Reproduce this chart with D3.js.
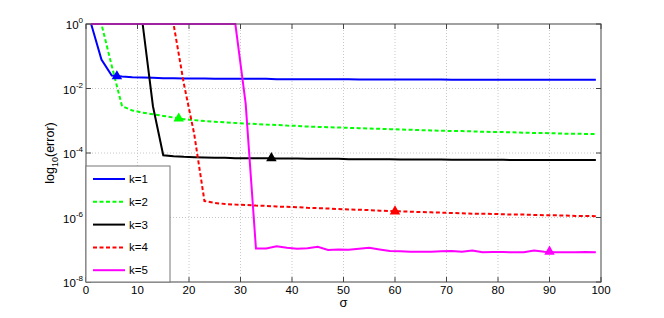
<!DOCTYPE html>
<html>
<head>
<meta charset="utf-8">
<script src="https://cdn.jsdelivr.net/npm/d3@7"></script>
<style>
  body { margin: 0; background: #fff; }
  svg { font-family: "Liberation Sans", Arial, sans-serif; }
  .grid line { stroke: #c8c8c8; stroke-dasharray: 1,2; }
</style>
</head>
<body>
<svg width="664" height="318"></svg>
<script>
// sigma values (x) shared by every curve
const sigma = [1,3,5,7,9,11,13,15,17,19,21,23,25,27,29,31,33,35,37,39,41,43,45,47,49,
               51,53,55,57,59,61,63,65,67,69,71,73,75,77,79,81,83,85,87,89,91,93,95,97,99]

// log10(error) for each k
const k1 = [0,-1.10,-1.60,-1.63,-1.65,-1.66,-1.67,-1.68,-1.68,-1.69,-1.69,-1.69,-1.70,-1.70,-1.70,-1.70,-1.70,-1.70,-1.71,-1.71,-1.71,-1.71,-1.71,-1.71,-1.71,
            -1.71,-1.72,-1.72,-1.72,-1.72,-1.72,-1.72,-1.72,-1.72,-1.72,-1.73,-1.73,-1.73,-1.73,-1.73,-1.73,-1.73,-1.73,-1.73,-1.73,-1.73,-1.73,-1.73,-1.73,-1.73]
const k2 = [0,0,-1.30,-2.55,-2.68,-2.75,-2.80,-2.85,-2.90,-2.95,-2.98,-3.01,-3.03,-3.05,-3.07,-3.09,-3.10,-3.12,-3.13,-3.15,-3.16,-3.18,-3.19,-3.20,-3.21,
            -3.22,-3.23,-3.24,-3.25,-3.26,-3.27,-3.28,-3.29,-3.30,-3.31,-3.32,-3.32,-3.33,-3.34,-3.35,-3.35,-3.36,-3.37,-3.38,-3.38,-3.39,-3.40,-3.40,-3.41,-3.41]
const k3 = [0,0,0,0,0,0,-2.55,-4.07,-4.10,-4.12,-4.13,-4.14,-4.15,-4.15,-4.16,-4.16,-4.16,-4.16,-4.17,-4.17,-4.17,-4.18,-4.18,-4.18,-4.18,
            -4.19,-4.19,-4.19,-4.19,-4.19,-4.20,-4.20,-4.20,-4.20,-4.20,-4.21,-4.21,-4.21,-4.21,-4.21,-4.21,-4.22,-4.22,-4.22,-4.22,-4.22,-4.22,-4.22,-4.22,-4.22]
const k4 = [0,0,0,0,0,0,0,0,0,-1.85,-3.40,-5.49,-5.55,-5.58,-5.60,-5.61,-5.63,-5.64,-5.66,-5.67,-5.68,-5.70,-5.71,-5.72,-5.74,
            -5.75,-5.76,-5.77,-5.79,-5.80,-5.81,-5.82,-5.83,-5.84,-5.85,-5.86,-5.87,-5.88,-5.88,-5.89,-5.90,-5.91,-5.91,-5.92,-5.93,-5.93,-5.94,-5.95,-5.95,-5.96]
const k5 = [0,0,0,0,0,0,0,0,0,0,0,0,0,0,0,-2.46,-6.96,-6.96,-6.89,-6.94,-6.97,-6.95,-6.91,-7.01,-6.99,
            -7.00,-6.97,-6.94,-6.99,-7.04,-7.05,-7.06,-7.06,-7.06,-7.05,-7.04,-7.06,-7.02,-7.08,-7.07,-7.07,-7.08,-7.08,-7.02,-7.06,-7.08,-7.08,-7.08,-7.07,-7.08]

// triangle markers: sigma and log10(error)
const markerSigma = [6, 18, 36, 60, 90]
const markerValue = [-1.62, -2.93, -4.16, -5.81, -7.06]

const names = ["k=1", "k=2", "k=3", "k=4", "k=5"]
const colors = ["#0000ff", "#00ff00", "#000000", "#ff0000", "#ff00ff"]
const dashed = [false, true, false, true, false]
const xTicks = [0,10,20,30,40,50,60,70,80,90,100]
const yTickExp = [0,-2,-4,-6,-8]

const series = [k1, k2, k3, k4, k5]

const pLeft = 86, pRight = 601, pTop = 24, pBottom = 282

const svg = d3.select("svg")
const xScale = d3.scaleLinear().domain([0, 100]).range([pLeft, pRight])
const yScale = d3.scaleLog().domain([1e-8, 1]).range([pBottom, pTop])

// grid
const grid = svg.append("g").attr("class", "grid")
grid.selectAll(".gx").data(xTicks.slice(1, -1)).enter().append("line")
    .attr("x1", d => xScale(d)).attr("x2", d => xScale(d))
    .attr("y1", pTop).attr("y2", pBottom)
grid.selectAll(".gy").data(yTickExp.slice(1, -1)).enter().append("line")
    .attr("x1", pLeft).attr("x2", pRight)
    .attr("y1", d => yScale(Math.pow(10, d))).attr("y2", d => yScale(Math.pow(10, d)))

// curves
svg.append("clipPath").attr("id", "clip").append("rect")
    .attr("x", pLeft).attr("y", pTop - 2).attr("width", pRight - pLeft).attr("height", pBottom - pTop + 2)

const line = d3.line()
    .x((d, i) => xScale(sigma[i]))
    .y(d => yScale(Math.pow(10, d)))

const plot = svg.append("g").attr("clip-path", "url(#clip)")
series.forEach((s, i) => {
    plot.append("path")
        .attr("d", line(s))
        .attr("fill", "none")
        .attr("stroke", colors[i])
        .attr("stroke-width", 2)
        .attr("stroke-dasharray", dashed[i] ? "4,2.5" : null)
})

// markers
svg.selectAll(".mark").data(markerSigma).enter().append("path")
    .attr("d", d3.symbol().type(d3.symbolTriangle).size(48))
    .attr("transform", (d, i) => "translate(" + xScale(d) + "," + yScale(Math.pow(10, markerValue[i])) + ")")
    .attr("fill", (d, i) => colors[i])

// axes box and ticks
const ax = svg.append("g").attr("stroke", "#444").attr("stroke-width", 1)
ax.append("rect").attr("x", pLeft).attr("y", pTop).attr("width", pRight - pLeft).attr("height", pBottom - pTop)
    .attr("fill", "none")
xTicks.forEach(t => {
    ax.append("line").attr("x1", xScale(t)).attr("x2", xScale(t)).attr("y1", pBottom).attr("y2", pBottom - 5)
    ax.append("line").attr("x1", xScale(t)).attr("x2", xScale(t)).attr("y1", pTop).attr("y2", pTop + 5)
})
yTickExp.forEach(e => {
    const y = yScale(Math.pow(10, e))
    ax.append("line").attr("x1", pLeft).attr("x2", pLeft + 5).attr("y1", y).attr("y2", y)
    ax.append("line").attr("x1", pRight).attr("x2", pRight - 5).attr("y1", y).attr("y2", y)
})

// tick labels
svg.selectAll(".xl").data(xTicks).enter().append("text")
    .attr("x", d => xScale(d)).attr("y", pBottom + 12)
    .attr("text-anchor", "middle").attr("font-size", 11.5).text(d => d)

yTickExp.forEach(e => {
    const y = yScale(Math.pow(10, e))
    const t = svg.append("text").attr("x", pLeft - 3).attr("y", y + 5)
        .attr("text-anchor", "end").attr("font-size", 11.5)
    t.append("tspan").text("10")
    t.append("tspan").attr("dy", -6).attr("font-size", 8).text(e === 0 ? "0" : "-" + (-e))
})

// axis labels
svg.append("text").attr("x", (pLeft + pRight) / 2).attr("y", 307)
    .attr("text-anchor", "middle").attr("font-size", 13).text("σ")
const yl = svg.append("text")
    .attr("transform", "translate(54," + ((pTop + pBottom) / 2) + ") rotate(-90)")
    .attr("text-anchor", "middle").attr("font-size", 12.5)
yl.append("tspan").text("log")
yl.append("tspan").attr("dy", 4).attr("font-size", 9).text("10")
yl.append("tspan").attr("dy", -4).text("(error)")

// legend
const lg = svg.append("g")
lg.append("rect").attr("x", pLeft).attr("y", 166).attr("width", 84).attr("height", pBottom - 166)
    .attr("fill", "#fff").attr("stroke", "#777")
names.forEach((n, i) => {
    const y = 179 + i * 22.8
    lg.append("line").attr("x1", 93).attr("x2", 125).attr("y1", y).attr("y2", y)
        .attr("stroke", colors[i]).attr("stroke-width", 2)
        .attr("stroke-dasharray", dashed[i] ? "4,2.5" : null)
    lg.append("text").attr("x", 129).attr("y", y + 4).attr("font-size", 11.5).text(n)
})
</script>
</body>
</html>
